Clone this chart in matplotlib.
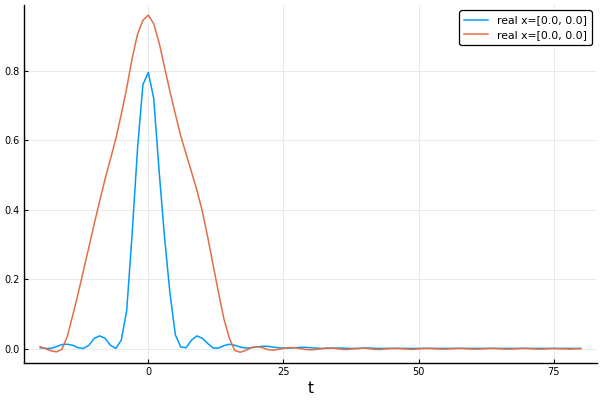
import matplotlib
matplotlib.use("Agg")
import matplotlib.pyplot as plt
import numpy as np

# tiempos de muestreo (paso 1)
t = np.arange(-20, 81)

# serie azul
azul = [0.003, 0.001, 0.001, 0.006, 0.012, 0.013, 0.010, 0.003, 0.001, 0.010,
        0.030, 0.037, 0.030, 0.010, 0.001, 0.025, 0.110, 0.330, 0.575, 0.760,
        0.795, 0.720, 0.510, 0.320, 0.160, 0.040, 0.005, 0.003, 0.025, 0.037,
        0.030, 0.015, 0.002, 0.002, 0.009, 0.013, 0.010, 0.005, 0.002, 0.003,
        0.005, 0.007, 0.007, 0.005, 0.003, 0.002, 0.002, 0.003, 0.004, 0.004,
        0.003, 0.002, 0.001, 0.001, 0.002, 0.002, 0.002, 0.001, 0.001, 0.001,
        0.002, 0.002, 0.001, 0.001, 0.001, 0.001, 0.001, 0.001, 0.001, 0.001,
        0.001, 0.001, 0.001, 0.001, 0.001, 0.001, 0.001, 0.001, 0.001, 0.001,
        0.001, 0.001, 0.001, 0.001, 0.001, 0.001, 0.001, 0.001, 0.001, 0.001,
        0.001, 0.001, 0.001, 0.001, 0.001, 0.001, 0.001, 0.001, 0.001, 0.001,
        0.001]

# serie naranja
naranja = [0.006, 0.000, -0.006, -0.009, -0.002, 0.035, 0.095, 0.158, 0.225, 0.292,
           0.360, 0.425, 0.488, 0.546, 0.605, 0.675, 0.750, 0.835, 0.905, 0.945,
           0.960, 0.935, 0.880, 0.810, 0.740, 0.675, 0.612, 0.560, 0.508, 0.455,
           0.395, 0.320, 0.240, 0.160, 0.085, 0.030, -0.005, -0.010, -0.005, 0.003,
           0.006, 0.004, -0.002, -0.004, -0.002, 0.001, 0.003, 0.003, 0.001, -0.002,
           -0.003, -0.002, 0.000, 0.002, 0.002, 0.000, -0.002, -0.002, 0.000, 0.001,
           0.002, 0.000, -0.002, -0.002, 0.000, 0.001, 0.001, 0.000, -0.001, -0.002,
           0.000, 0.001, 0.001, 0.000, -0.001, -0.001, 0.000, 0.001, 0.001, 0.000,
           -0.001, -0.001, 0.000, 0.001, 0.001, 0.000, -0.001, -0.001, 0.000, 0.001,
           0.001, 0.000, -0.001, -0.001, 0.000, 0.001, 0.000, 0.000, -0.001, 0.000,
           0.000]

etiquetas = ["real x=[0.0, 0.0]", "real x=[0.0, 0.0]"]
colores = ["#009AFA", "#E26F46"]

fig = plt.figure(figsize=(6, 4), dpi=100)
ax = fig.add_axes([0.04, 0.0925, 0.955, 0.895])
ax.plot(t, azul, color=colores[0], lw=1.1, label=etiquetas[0])
ax.plot(t, naranja, color=colores[1], lw=1.1, label=etiquetas[1])

ax.set_xlim(-23.0, 83.0)
ax.set_ylim(-0.041, 0.989)
ax.set_xticks([0, 25, 50, 75])
ax.set_yticks([0.0, 0.2, 0.4, 0.6, 0.8])
ax.set_yticklabels(["0.0", "0.2", "0.4", "0.6", "0.8"])
ax.grid(True, color="0.9", lw=0.6)
for s in ["top", "right"]:
    ax.spines[s].set_visible(False)
for s in ["left", "bottom"]:
    ax.spines[s].set_linewidth(1.0)
ax.tick_params(direction="in", length=3, width=0.8, labelsize=7, pad=3)
ax.set_xlabel("t", fontsize=11, labelpad=3)

leg = ax.legend(loc="upper right", fontsize=7.8, frameon=True, fancybox=True,
                handlelength=2.2, handletextpad=0.8, borderpad=0.45,
                borderaxespad=0.5, labelspacing=0.45)
leg.get_frame().set_edgecolor("black")
leg.get_frame().set_linewidth(0.9)
leg.get_frame().set_alpha(1.0)

fig.savefig("out.png", dpi=100)
